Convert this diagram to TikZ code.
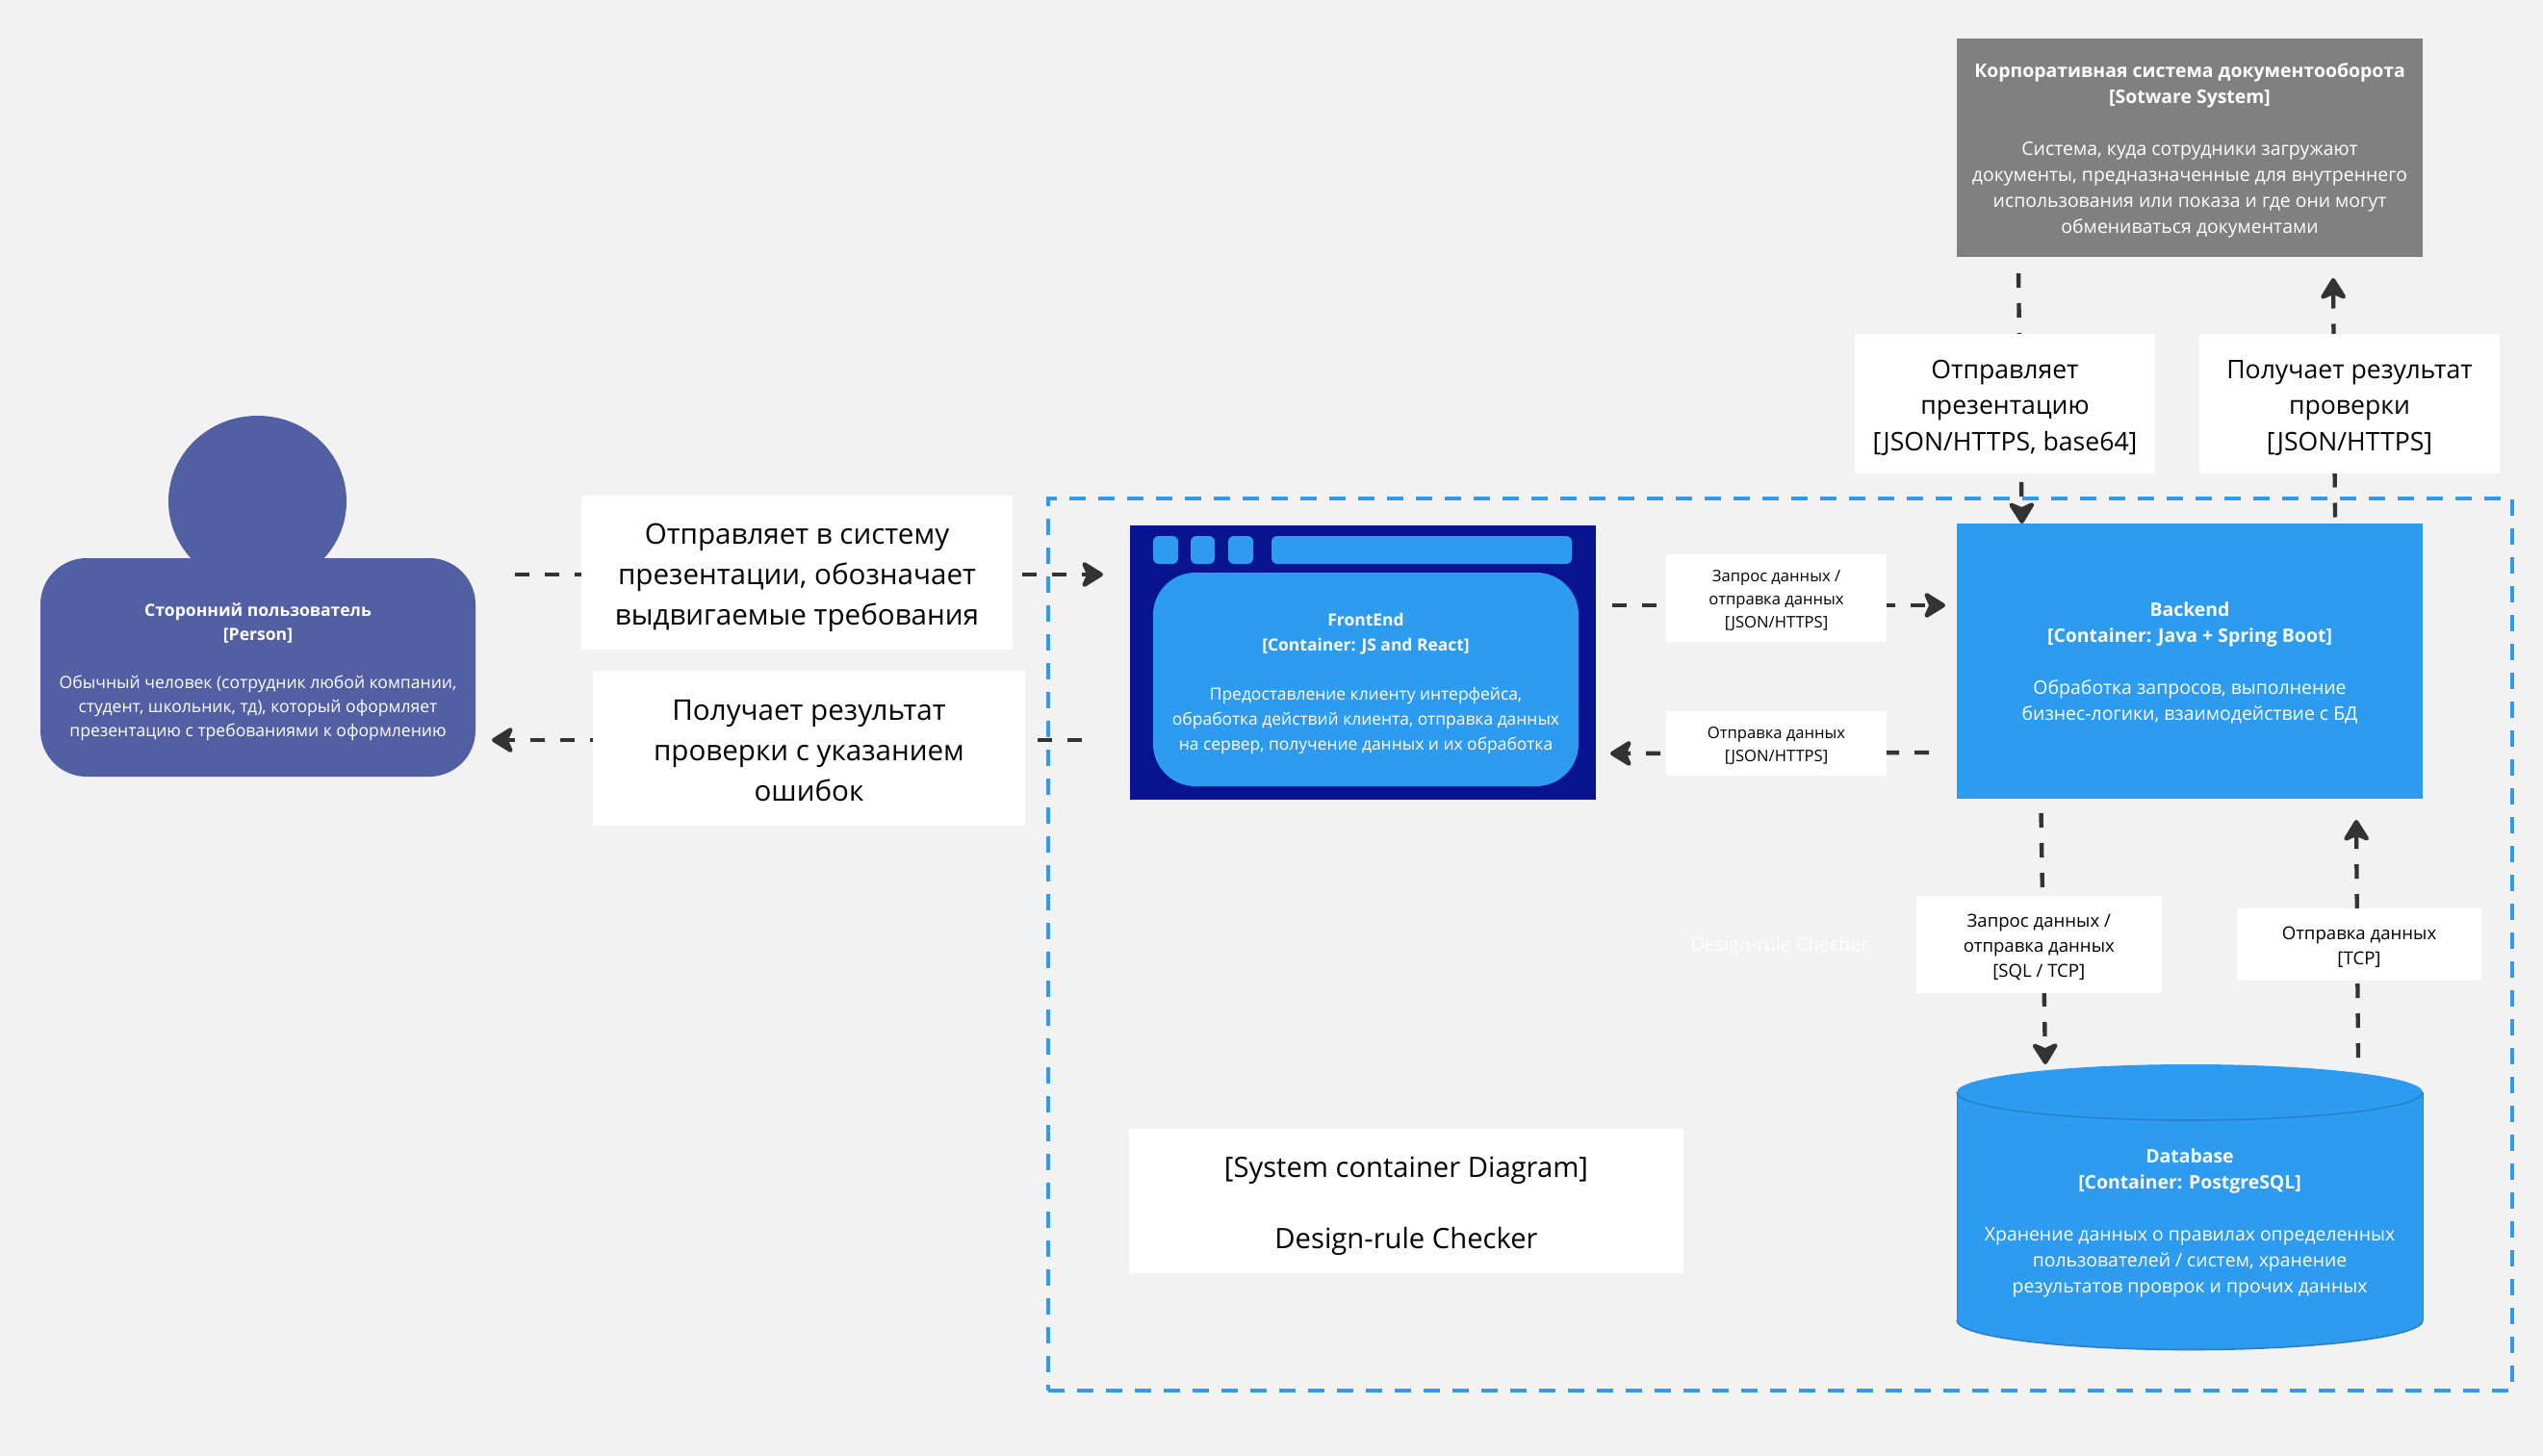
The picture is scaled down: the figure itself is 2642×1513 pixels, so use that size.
\documentclass[tikz,border=0pt]{standalone}
\usepackage{fontspec}
\setmainfont{Open Sans}
\usetikzlibrary{arrows.meta,shapes.geometric,calc}
\definecolor{bgc}{HTML}{F2F2F2}
\definecolor{personc}{HTML}{535FA3}
\definecolor{bluec}{HTML}{2D9BF0}
\definecolor{navyc}{HTML}{08148F}
\definecolor{greyc}{HTML}{808080}
\definecolor{linec}{HTML}{333333}
\definecolor{dbline}{HTML}{2A80C8}
\newcommand{\fnt}[2]{\fontsize{#1}{#2}\selectfont}
\newcommand{\dn}[1]{\rule{0pt}{\dimexpr0.76em+#1pt\relax}}
\tikzset{
  x=0.5pt,y=-0.5pt,
  sized/.style 2 args={minimum width=#1*0.5pt,minimum height=#2*0.5pt,inner sep=0pt,outer sep=0pt,anchor=north west,align=center},
  conn/.style={draw=linec,line width=2.2pt,dash pattern=on 7.5pt off 8pt,-{Stealth[length=13pt,width=16pt,inset=3.5pt,round]}},
  frame/.style={draw=bluec,line width=2pt,dash pattern=on 8.5pt off 6.5pt},
  shapetext/.style={text=white},
  lab/.style={fill=white,text=black},
  labbig/.style={lab,font=\fnt{14.8}{21}},
  labmid/.style={lab,font=\fnt{13.3}{18.8}},
  labsm/.style={lab,font=\fnt{8.3}{11.9}},
  labtcp/.style={lab,font=\fnt{9.3}{13}},
}
\begin{document}
\begin{tikzpicture}
\useasboundingbox (0,0) rectangle (2642,1513);
\fill[bgc] (0,0) rectangle (2642,1513);

% system boundary
\node[sized={1521}{927},frame] (boundary) at (1089,518) {};

% person
\node[ellipse,fill=personc,minimum width=92.5pt,minimum height=89pt,inner sep=0pt,outer sep=0pt] (head) at (267.5,521) {};
\node[sized={452}{227},fill=personc,rounded corners=24pt,shapetext,font=\fnt{8.78}{12.5}] (person) at (42,580)
  {\dn{5}\textbf{Сторонний пользователь}\\\textbf{[Person]}\\[12.5pt]Обычный человек (сотрудник любой компании,\\студент, школьник, тд), который оформляет\\презентацию с требованиями к оформлению};

% frontend
\node[sized={484}{285},fill=navyc] (fe) at (1174,546) {};
\node[sized={26}{29},fill=bluec,rounded corners=3pt] (btna) at (1198,557) {};
\node[sized={25}{29},fill=bluec,rounded corners=3pt] (btnb) at (1237,557) {};
\node[sized={26}{29},fill=bluec,rounded corners=3pt] (btnc) at (1276,557) {};
\node[sized={312}{29},fill=bluec,rounded corners=3pt] (urlbar) at (1321,557) {};
\node[sized={442}{222},fill=bluec,rounded corners=22pt,shapetext,font=\fnt{8.72}{12.9}] (feinner) at (1198,595)
  {\dn{4.5}\textbf{FrontEnd}\\\textbf{[Container: JS and React]}\\[12.9pt]Предоставление клиенту интерфейса,\\обработка действий клиента, отправка данных\\на сервер, получение данных и их обработка};

% backend
\node[sized={484}{286},fill=bluec,shapetext,font=\fnt{9.72}{13.5}] (be) at (2033,544)
  {\dn{2}\textbf{Backend}\\\textbf{[Container: Java + Spring Boot]}\\[13.5pt]Обработка запросов, выполнение\\бизнес-логики, взаимодействие с БД};

% external system
\node[sized={484}{227},fill=greyc,shapetext,font=\fnt{9.71}{13.5}] (ext) at (2033,40)
  {\dn{3}\textbf{Корпоративная система документооборота}\\\textbf{[Sotware System]}\\[13.5pt]Система, куда сотрудники загружают\\документы, предназначенные для внутреннего\\использования или показа и где они могут\\обмениваться документами};

% database
\fill[bluec] (2033,1135) arc[x radius=242,y radius=-29,start angle=180,end angle=0] -- (2517,1372)
  arc[x radius=242,y radius=-30.5,start angle=0,end angle=-180] -- cycle;
\draw[dbline,line width=0.8pt] (2033,1135) arc[x radius=242,y radius=-29,start angle=180,end angle=360];
\draw[dbline,line width=0.8pt] (2033,1372) arc[x radius=242,y radius=-30.5,start angle=180,end angle=360];
\draw[dbline,line width=0.5pt] (2033,1135) -- (2033,1372) (2517,1135) -- (2517,1372);
\node[sized={484}{266},shapetext,font=\fnt{9.7}{13.5}] (db) at (2033,1136)
  {\dn{2}\textbf{Database}\\\textbf{[Container: PostgreSQL]}\\[13.5pt]Хранение данных о правилах определенных\\пользователей / систем, хранение\\результатов проврок и прочих данных};

% connectors
\draw[conn] ([shift={(493,17)}]person.north west) -- ([shift={(-28,51)}]fe.north west);
\draw[conn] ([shift={(-50,223)}]fe.north west) -- ([shift={(17,-38)}]person.south east);
\draw[conn] ([shift={(501,83)}]fe.north west) -- ([shift={(-12,85)}]be.north west);
\draw[conn] ([shift={(-29,238)}]be.north west) -- ([shift={(15,-48)}]fe.south east);
\draw[conn] ([shift={(64,17)}]ext.south west) -- ([shift={(67.6,0)}]be.north west);
\draw[conn] ([shift={(393,-6.5)}]be.north west) -- ([shift={(391,22)}]ext.south west);
\draw[conn] ([shift={(87.5,15)}]be.south west) -- ([shift={(92,-30)}]db.north west);
\draw[conn] ([shift={(417,-37)}]db.north west) -- ([shift={(415,22)}]be.south west);

% labels
\node[sized={448}{160},labbig] (l1) at (604,515) {\dn{5}Отправляет в систему\\презентации, обозначает\\выдвигаемые требования};
\node[sized={449}{161},labbig] (l2) at (616,697) {\dn{1.5}Получает результат\\проверки с указанием\\ошибок};
\node[sized={229}{91},labsm] (l3) at (1731,576) {\dn{2}Запрос данных /\\отправка данных\\{[}JSON/HTTPS{]}};
\node[sized={229}{67},labsm] (l4) at (1731,739) {\dn{2}Отправка данных\\{[}JSON/HTTPS{]}};
\node[sized={312}{145},labmid] (l5) at (1927,347) {\dn{3.5}Отправляет\\презентацию\\{[}JSON/HTTPS, base64{]}};
\node[sized={312}{145},labmid] (l6) at (2285,347) {\dn{3.5}Получает результат\\проверки\\{[}JSON/HTTPS{]}};
\node[sized={254.5}{101},labtcp] (l7) at (1991,931) {\dn{2.5}Запрос данных /\\отправка данных\\{[}SQL / TCP{]}};
\node[sized={254}{75},labtcp] (l8) at (2324,944) {\dn{2}Отправка данных\\{[}TCP{]}};

% title box and faint caption
\node[sized={576}{150},lab,font=\fnt{14.6}{18.5}] (title) at (1173,1173) {\dn{5}{[}System container Diagram{]}\\[18.5pt]Design-rule Checker};
\node[text=white,font=\fnt{9.75}{13.5},inner sep=0pt] (faint) at (1849,983) {Design-rule Checher};
\end{tikzpicture}
\end{document}
